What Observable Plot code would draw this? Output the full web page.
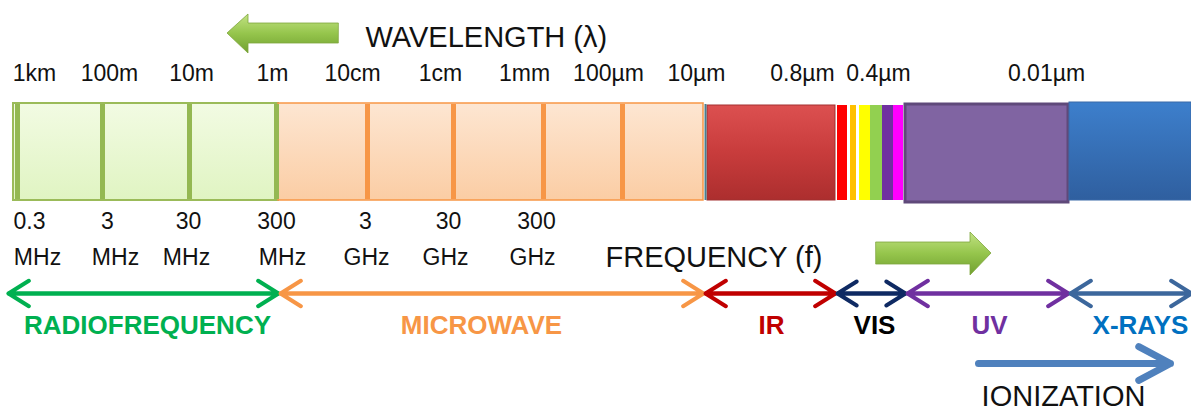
<!DOCTYPE html>
<html><head><meta charset="utf-8">
<script src="https://cdn.jsdelivr.net/npm/d3@7"></script>
<script src="https://cdn.jsdelivr.net/npm/@observablehq/plot@0.6"></script>
<style>body{margin:0;background:#fff;} svg{display:block;}</style>
</head><body><div id="chart"></div>
<script>
// ---- Wavelength scale (top) ----
const wavelengthLabels = ["1km","100m","10m","1m","10cm","1cm","1mm","100µm","10µm","0.8µm","0.4µm","0.01µm"];
const wavelengthPos = [34,109,191,272,352,440,524,608,696,802,878,1046];

// ---- Frequency scale (below bar) ----
const freqValues = ["0.3","3","30","300","3","30","300"];
const freqValuePos = [29,107,188,276,365,448,536];
const freqUnits = ["MHz","MHz","MHz","MHz","GHz","GHz","GHz"];
const freqUnitPos = [37,115,186,282,366,445,532];

// ---- Spectral regions ----
const regions = ["RADIOFREQUENCY","MICROWAVE","IR","VIS","UV","X-RAYS"];
const regionStart = [8,280,705,837,907,1070];
const regionEnd = [278,703,835,905,1068,1191];
const regionLabelPos = [147,481,771,874,989,1140];
const regionArrowColors = ["#00b050","#f79646","#c00000","#0f2a63","#7030a0","#3c679c"];
const regionLabelColors = ["#00b050","#f79646","#c00000","#000000","#7030a0","#0070c0"];

// ---- Spectrum bar blocks ----
const bands = ["radio","microwave","ir","uv","xray"];
const bandX1 = [13,278,707,905,1069];
const bandX2 = [278,703,835,1068,1191];
const bandY1 = [103,103,105,104,102];
const bandY2 = [200,200,200,202,200];
const bandFill = ["url(#gRadio)","url(#gMicro)","url(#gIR)","#8064a2","url(#gXray)"];
const bandStroke = ["#9bbb59","#f79646","#a33030","#5f497a","#3a6aa8"];
const bandStrokeWidth = [2,1.5,1,3,1];

const radioDividers = [17,102,189,276];
const microDividers = [367,453,543,622];

// visible light strips
const visColors = ["#ff0000","#ffc000","#ffff00","#92d050","#7030a0","#ff00ff"];
const visX1 = [837,850,859,870,882,893];
const visX2 = [847,856,870,882,893,903];

// block arrows (wavelength ←, frequency →)
const waveArrowX = [338,248,248,227];
const waveArrowTop = [23,23,14,33];
const waveArrowBottom = [43,43,53,33];
const freqArrowX = [876,970,970,991];
const freqArrowTop = [242,242,232,253];
const freqArrowBottom = [264,264,275,253];

const idx = n => d3.range(n);

const chart = Plot.plot({
  width: 1191, height: 411,
  marginTop: 0, marginRight: 0, marginBottom: 0, marginLeft: 0,
  x: {domain: [0, 1191], range: [0, 1191], axis: null},
  y: {domain: [0, 411], range: [0, 411], axis: null},
  style: {fontFamily: "'Liberation Sans', Arial, sans-serif", background: "#fff"},
  marks: [
    // spectrum blocks
    Plot.rect(idx(bands.length), {x1: i => bandX1[i], x2: i => bandX2[i], y1: i => bandY1[i], y2: i => bandY2[i],
      fill: i => bandFill[i], stroke: i => bandStroke[i], strokeWidth: i => bandStrokeWidth[i]}),
    Plot.ruleX([705], {y1: 104, y2: 200, stroke: "#4b7f8f", strokeWidth: 2}),
    Plot.ruleX(radioDividers, {y1: 104, y2: 199, stroke: "#94b852", strokeWidth: 5}),
    Plot.ruleX(microDividers, {y1: 104, y2: 199, stroke: "#f79646", strokeWidth: 5}),
    Plot.rect(idx(visColors.length), {x1: i => visX1[i], x2: i => visX2[i], y1: 105, y2: 200, fill: i => visColors[i]}),
    // wavelength header
    Plot.area(idx(4), {x1: i => waveArrowX[i], y1: i => waveArrowTop[i], y2: i => waveArrowBottom[i],
      fill: "url(#gArrow)", stroke: "#7fa63c", strokeWidth: 0.8, curve: "linear"}),
    Plot.text(["WAVELENGTH (λ)"], {x: 365, y: 37, text: d => d, textAnchor: "start", fontSize: 29, fill: "#111"}),
    Plot.text(idx(wavelengthLabels.length), {x: i => wavelengthPos[i], y: 73, text: i => wavelengthLabels[i], fontSize: 23, fill: "#111"}),
    // frequency labels
    Plot.text(idx(freqValues.length), {x: i => freqValuePos[i], y: 221, text: i => freqValues[i], fontSize: 23, fill: "#111"}),
    Plot.text(idx(freqUnits.length), {x: i => freqUnitPos[i], y: 257, text: i => freqUnits[i], fontSize: 23, fill: "#111"}),
    Plot.text(["FREQUENCY (f)"], {x: 605, y: 257, text: d => d, textAnchor: "start", fontSize: 29, fill: "#111"}),
    Plot.area(idx(4), {x1: i => freqArrowX[i], y1: i => freqArrowTop[i], y2: i => freqArrowBottom[i],
      fill: "url(#gArrow)", stroke: "#7fa63c", strokeWidth: 0.8, curve: "linear"}),
    // region double arrows
    Plot.arrow(idx(regions.length), {x1: i => regionStart[i], x2: i => regionEnd[i], y1: 293, y2: 293,
      stroke: i => regionArrowColors[i], strokeWidth: 4, headLength: 9, headAngle: 64}),
    Plot.arrow(idx(regions.length), {x1: i => regionEnd[i], x2: i => regionStart[i], y1: 293, y2: 293,
      stroke: i => regionArrowColors[i], strokeWidth: 4, headLength: 9, headAngle: 64}),
    Plot.text(idx(regions.length), {x: i => regionLabelPos[i], y: 325, text: i => regions[i], fontSize: 26,
      fontWeight: "bold", fill: i => regionLabelColors[i]}),
    // ionization
    Plot.arrow([0], {x1: 978, x2: 1170, y1: 363, y2: 363, stroke: "#4f81bd", strokeWidth: 7, headLength: 7.7, headAngle: 56}),
    Plot.text(["IONIZATION"], {x: 1063, y: 396, text: d => d, fontSize: 29, fill: "#111"})
  ]
});

// gradient definitions
const defs = d3.select(chart).insert("defs", ":first-child");
function grad(id, stops) {
  const g = defs.append("linearGradient").attr("id", id).attr("x1", 0).attr("y1", 0).attr("x2", 0).attr("y2", 1);
  stops.forEach(([o, c]) => g.append("stop").attr("offset", o).attr("stop-color", c));
}
grad("gRadio", [[0, "#f2fbe3"], [1, "#e0f4c2"]]);
grad("gMicro", [[0, "#fde6d2"], [1, "#fbcda4"]]);
grad("gIR", [[0, "#dc5050"], [0.5, "#c83c3c"], [1, "#ac2e2e"]]);
grad("gXray", [[0, "#3d7fcc"], [1, "#2f5f9f"]]);
grad("gArrow", [[0, "#c2e283"], [0.5, "#95c54c"], [1, "#71a030"]]);

document.getElementById("chart").appendChild(chart);
</script>
</body></html>
